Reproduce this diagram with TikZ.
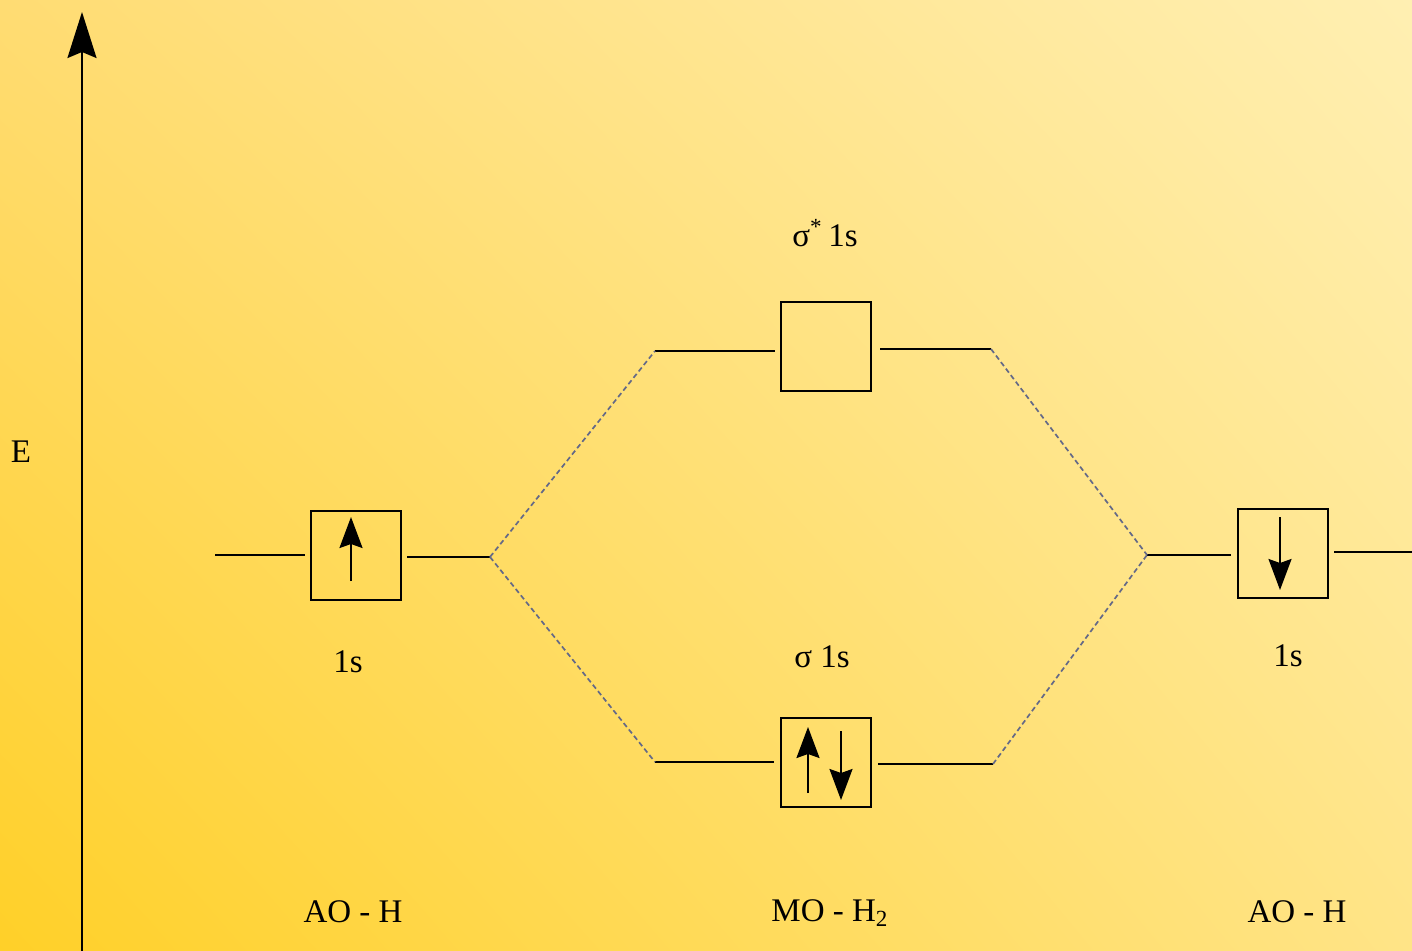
\documentclass[tikz,border=0pt]{standalone}
\usepackage{fontspec}
\setmainfont{Liberation Serif}
\usetikzlibrary{arrows.meta,shadings}
\definecolor{bgUL}{RGB}{255,220,115}
\definecolor{bgUR}{RGB}{255,239,178}
\definecolor{bgLL}{RGB}{255,208,40}
\definecolor{bgLR}{RGB}{255,228,135}
\definecolor{dashcol}{RGB}{100,105,135}
\tikzset{
  orb/.style={draw, line width=1pt, minimum width=45pt, minimum height=44.5pt, inner sep=0pt},
  level/.style={line width=1pt},
  corr/.style={dashcol, line width=0.85pt, dash pattern=on 2.5pt off 1.6pt},
  spin/.style={line width=1pt, -{Stealth[length=15.5pt,width=11.5pt,inset=2pt]}},
  lbl/.style={font=\fontsize{16.5}{20}\selectfont, inner sep=0pt}
}
\begin{document}
\begin{tikzpicture}[x=0.5pt,y=-0.5pt]
\useasboundingbox (0,0) rectangle (1412,951);
\shade[upper left=bgUL, upper right=bgUR, lower left=bgLL, lower right=bgLR] (0,0) rectangle (1412,951);
% energy axis
\coordinate (axb) at (82,951);
\coordinate (axt) at (82,12);
\draw[line width=1pt, -{Stealth[length=23pt,width=14.5pt,inset=3pt]}] (axb) -- (axt);
\node[lbl] (E) at (21,452) {E};
% boxes
\node[orb] (aoL) at (356,555.5) {};
\node[orb] (sgs) at (826,346.5) {};
\node[orb] (sg) at (826,762.5) {};
\node[orb] (aoR) at (1283,553) {};
% level ends
\coordinate (aoLl) at (215,555);
\coordinate (aoLr) at (490,557);
\coordinate (sgsl) at (655,351);
\coordinate (sgsr) at (991,349);
\coordinate (sgl) at (655,762);
\coordinate (sgr) at (993,764);
\coordinate (aoRl) at (1147,555);
\coordinate (aoRr) at (1412,552);
% level lines
\draw[level] (aoLl) -- ([xshift=-2.5pt]aoL.west |- aoLl);
\draw[level] ([xshift=2.5pt]aoL.east |- aoLr) -- (aoLr);
\draw[level] (sgsl) -- ([xshift=-2.5pt]sgs.west |- sgsl);
\draw[level] ([xshift=4pt]sgs.east |- sgsr) -- (sgsr);
\draw[level] (sgl) -- ([xshift=-3pt]sg.west |- sgl);
\draw[level] ([xshift=3pt]sg.east |- sgr) -- (sgr);
\draw[level] (aoRl) -- ([xshift=-3pt]aoR.west |- aoRl);
\draw[level] ([xshift=2.5pt]aoR.east |- aoRr) -- (aoRr);
% correlation lines
\draw[corr] (aoLr) -- (sgsl);
\draw[corr] (aoLr) -- (sgl);
\draw[corr] (sgsr) -- (aoRl);
\draw[corr] (sgr) -- (aoRl);
% electrons
\draw[spin] (351,581) -- (351,517);
\draw[spin] (808,793) -- (808,727);
\draw[spin] (841,731) -- (841,800);
\draw[spin] (1280,517) -- (1280,590);
% labels
\node[lbl] (tsgs) at (825,233) {σ\textsuperscript{*}\,1s};
\node[lbl] (t1sL) at (348,662) {1s};
\node[lbl] (tsg) at (822,657) {σ 1s};
\node[lbl] (t1sR) at (1288,656) {1s};
\node[lbl] (bL) at (353,912) {AO - H};
\node[lbl] (bM) at (830,913) {MO - H\textsubscript{2}};
\node[lbl] (bR) at (1297,912) {AO - H};
\end{tikzpicture}
\end{document}
